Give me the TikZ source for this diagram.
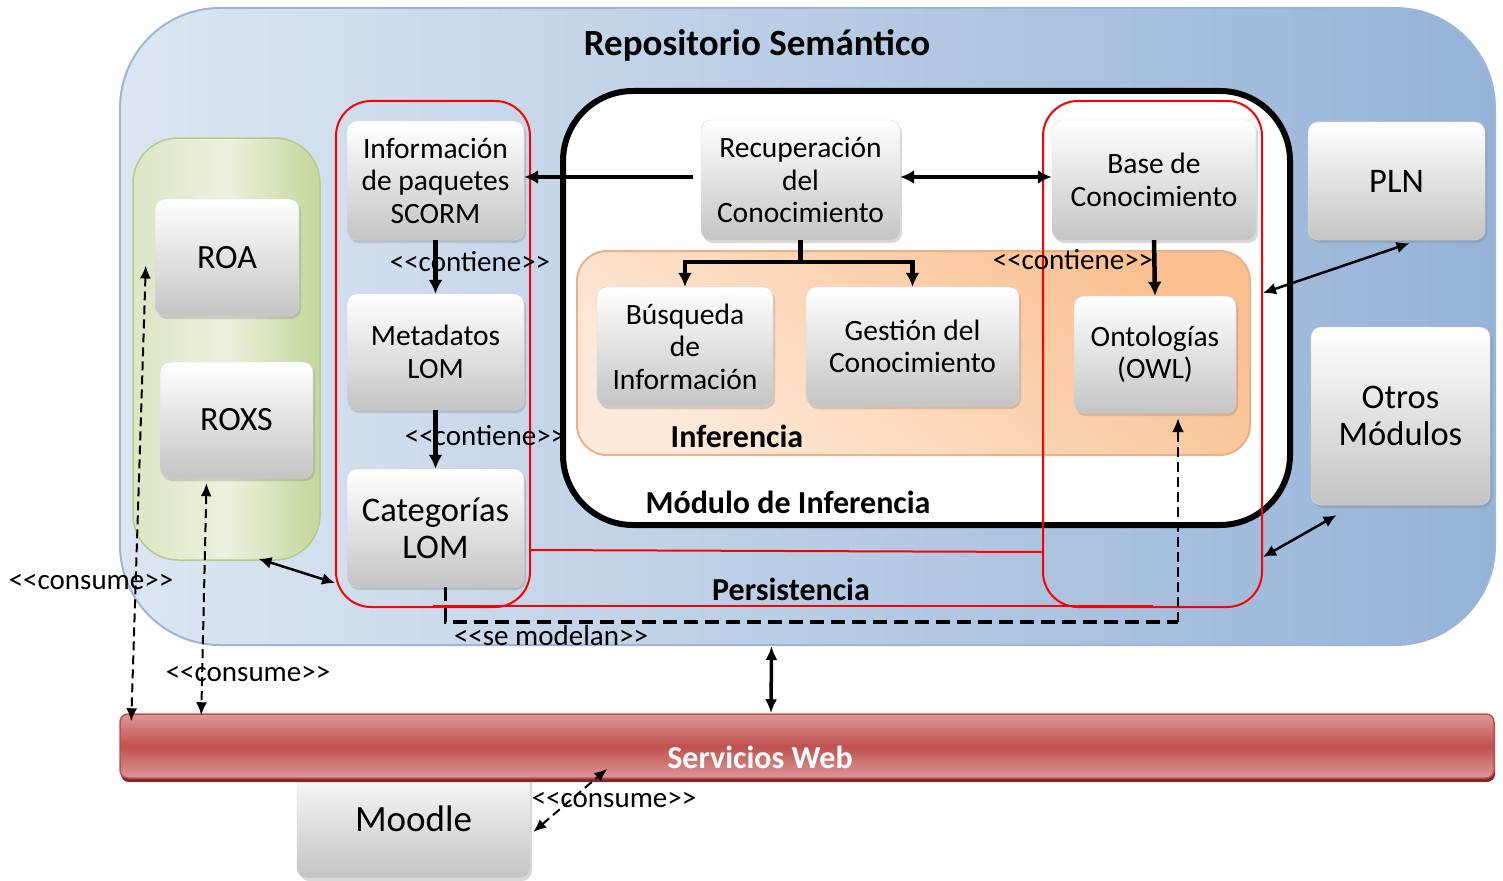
\documentclass[tikz,border=0pt]{standalone}
\usepackage{fontspec}
\setmainfont{Carlito}
\usetikzlibrary{arrows.meta,shadows}

\definecolor{repoL}{HTML}{DCE6F2}
\definecolor{repoD}{HTML}{95B3D7}
\definecolor{repoB}{HTML}{9DB5D8}
\definecolor{greenL}{HTML}{EBF1DE}
\definecolor{greenD}{HTML}{C3D69B}
\definecolor{greenB}{HTML}{B4CB8A}
\definecolor{orangeL}{HTML}{FDE9D9}
\definecolor{orangeD}{HTML}{FAC090}
\definecolor{orangeB}{HTML}{E8B38C}
\definecolor{wsL}{HTML}{DC9A98}
\definecolor{wsM}{HTML}{C0504D}
\definecolor{wsD}{HTML}{7A2C2A}

\tikzset{
	glossbox/.style={draw=black!15, rounded corners=10pt, top color=white, bottom color=black!23,
		drop shadow={opacity=0.3, shadow xshift=2pt, shadow yshift=-3pt},
		align=center, inner sep=0pt, font=\fontsize{29.5}{32.5}\selectfont},
	redbox/.style={draw=red, line width=2pt, rounded corners=35pt},
	thickarr/.style={line width=4.5pt, -{Latex[length=14pt,width=14pt]}},
	thinarr/.style={line width=2.5pt, {Latex[length=13pt,width=12pt]}-{Latex[length=13pt,width=12pt]}},
	dasharr/.style={line width=2pt, dash pattern=on 9pt off 5pt, {Latex[length=13pt,width=11pt]}-{Latex[length=13pt,width=11pt]}},
	stlabel/.style={inner sep=0pt, font=\fontsize{29}{32}\selectfont},
	boldlabel/.style={inner sep=0pt, font=\fontsize{32}{36}\selectfont\bfseries}
}

\begin{document}
\begin{tikzpicture}[x=1pt, y=-1pt]
	%%%%% START %%%%%
	\useasboundingbox (0,0) rectangle (1503,880);
	
	\node[draw=repoB, line width=2pt, rounded corners=100pt, left color=repoL, right color=repoD,
		minimum width=1375, minimum height=637] (repo) at (807.5,326.5) {};
	\node[boldlabel, font=\fontsize{37}{40}\selectfont\bfseries] (repolbl) at (757,45) {Repositorio Semántico};
	
	\node[draw=greenB, line width=1.5pt, rounded corners=45pt, left color=greenL!60!greenD, right color=greenD, middle color=greenL,
		minimum width=187, minimum height=422] (green) at (226.5,349) {};
	
	\node[draw=black, line width=6pt, rounded corners=70pt, fill=white,
		minimum width=727, minimum height=434] (modinf) at (926.5,308) {};
	\node[boldlabel] (modinflbl) at (788,502) {Módulo de Inferencia};
	
	\node[draw=orangeB, line width=2pt, rounded corners=30pt, top color=orangeD, bottom color=orangeL, shading angle=-40,
		minimum width=673, minimum height=204] (infer) at (913.5,353) {};
	\node[boldlabel] (inferlbl) at (737,436) {Inferencia};
	
	% persistencia
	\node[redbox, minimum width=194, minimum height=506] (persL) at (433,354) {};
	\node[redbox, minimum width=219, minimum height=506] (persR) at (1152.5,354) {};
	\draw[red, line width=2pt] ([yshift=-196pt]persL.east) -- ([yshift=-198pt]persR.west);
	\draw[red, line width=2pt] ([yshift=2pt]persL.south) -- ([yshift=2pt]persR.south);
	\node[boldlabel] (perslbl) at (791,589) {Persistencia};
	
	% cajas
	\node[glossbox, minimum width=144, minimum height=117, font=\fontsize{34}{38}\selectfont] (roa) at (227,257.5) {ROA};
	\node[glossbox, minimum width=153, minimum height=116, font=\fontsize{34}{38}\selectfont] (roxs) at (236.5,420) {ROXS};
	
	\node[glossbox, minimum width=177, minimum height=119] (info) at (435.5,180.5) {Información\\de paquetes\\SCORM};
	\node[glossbox, minimum width=177, minimum height=116] (meta) at (435.5,352) {Metadatos\\LOM};
	\node[glossbox, minimum width=177, minimum height=118, font=\fontsize{34.5}{37}\selectfont] (cat) at (435.5,528) {Categorías\\LOM};
	
	\node[glossbox, minimum width=199, minimum height=120] (recup) at (800.5,180) {Recuperación\\del\\Conocimiento};
	\node[glossbox, minimum width=204, minimum height=120] (base) at (1154,180) {Base de\\Conocimiento};
	\node[glossbox, minimum width=176, minimum height=119] (busq) at (685,346.5) {Búsqueda\\de\\Información};
	\node[glossbox, minimum width=213, minimum height=119] (gest) at (912.5,346.5) {Gestión del\\Conocimiento};
	\node[glossbox, minimum width=162, minimum height=117] (onto) at (1155,354.5) {Ontologías\\(OWL)};
	
	\node[glossbox, minimum width=177, minimum height=118, font=\fontsize{34.5}{38}\selectfont] (pln) at (1396.5,181) {PLN};
	\node[glossbox, minimum width=179, minimum height=178, font=\fontsize{34.5}{37}\selectfont] (otros) at (1400.5,416) {Otros\\Módulos};
	
	\node[glossbox, minimum width=233, minimum height=118, font=\fontsize{37}{40}\selectfont] (moodle) at (413.5,819) {Moodle};
	
	\node[draw=wsM, line width=1.5pt, rounded corners=8pt, top color=wsL, bottom color=wsL, middle color=wsM,
		drop shadow={color=wsD, opacity=1, shadow xshift=1pt, shadow yshift=-4pt},
		minimum width=1374, minimum height=64] (ws) at (807,746) {};
	\node[boldlabel, text=white] (wslbl) at (760,757) {Servicios Web};
	
	% flechas
	\draw[thickarr] ([xshift=-8pt,yshift=3pt]recup.west) -- ([yshift=3.5pt]info.east);
	\draw[thickarr, {Latex[length=14pt,width=14pt]}-{Latex[length=14pt,width=14pt]}] ([yshift=3pt]recup.east) -- ([yshift=3pt]base.west);
	\draw[thickarr] (recup.south) -- ++(0,22) -| (busq.north);
	\draw[thickarr] (recup.south) -- ++(0,22) -| (gest.north);
	\draw[thickarr] (base.south) -- (onto.north);
	\node[stlabel] (lblc3) at (1073,260) {<{}<contiene>{}>};
	
	\draw[thickarr] (info.south) -- (meta.north);
	\node[stlabel] (lblc1) at (470,262) {<{}<contiene>{}>};
	\draw[thickarr] (meta.south) -- (cat.north);
	\node[stlabel] (lblc2) at (485,436) {<{}<contiene>{}>};
	
	\draw[line width=3.5pt, dash pattern=on 14pt off 7pt] ([xshift=10pt]cat.south) |- ([xshift=23pt,yshift=-209pt]onto.south);
	\draw[line width=2pt, dash pattern=on 10pt off 5pt, -{Latex[length=14pt,width=12pt]}] ([xshift=23pt,yshift=-209pt]onto.south) -- ([xshift=23pt,yshift=-5pt]onto.south);
	\node[stlabel] (lblmod) at (551,636) {<{}<se modelan>{}>};
	
	\draw[thinarr] ([xshift=32pt,yshift=2pt]green.south) -- ([yshift=25pt]persL.south west);
	\draw[thinarr] ([yshift=61pt]persR.east) -- ([xshift=13pt,yshift=-3pt]pln.south);
	\draw[thinarr] ([yshift=-203pt]persR.east) -- ([xshift=-64pt,yshift=-10pt]otros.south);
	\draw[thickarr, line width=3.5pt, {Latex[length=14pt,width=12pt]}-{Latex[length=14pt,width=12pt]}] ([xshift=-36pt]repo.south) -- ([xshift=-36pt]ws.north);
	
	\draw[dasharr] ([xshift=-9pt,yshift=-8pt]roa.west) -- ([xshift=12pt,yshift=-8pt]ws.north west);
	\node[stlabel] (lblcon1) at (91,582) {<{}<consume>{}>};
	\draw[dasharr] ([xshift=-30pt,yshift=-5pt]roxs.south) -- ([xshift=82pt,yshift=-2pt]ws.north west);
	\node[stlabel] (lblcon2) at (248,674) {<{}<consume>{}>};
	\draw[dasharr] ([xshift=3pt,yshift=-13pt]moodle.east) -- ([xshift=488pt,yshift=10pt]ws.south west);
	\node[stlabel] (lblcon3) at (614,800) {<{}<consume>{}>};
	
	%%%%% END %%%%%
\end{tikzpicture}
\end{document}
